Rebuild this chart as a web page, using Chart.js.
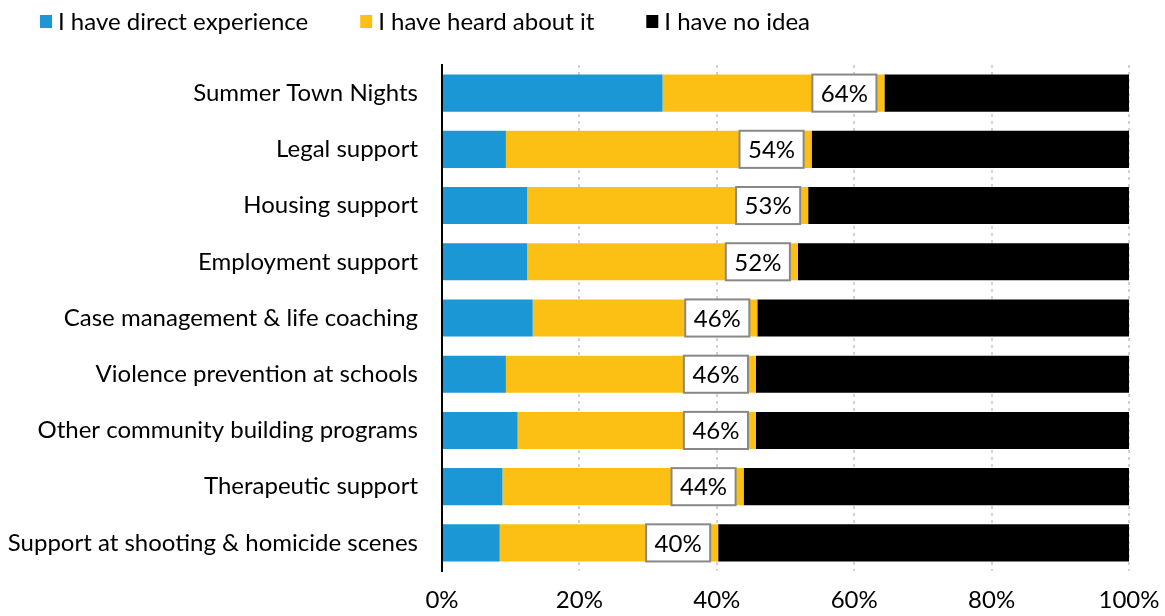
<!DOCTYPE html>
<html>
<head>
<meta charset="utf-8">
<script src="https://cdn.jsdelivr.net/npm/chart.js@4"></script>
<style>
    html, body { margin: 0; padding: 0; background: #fff; }
    #wrap { width: 1165px; height: 616px; position: relative; }
</style>
</head>
<body>
<div id="wrap"><canvas id="chart"></canvas></div>
<script>
const categories = [
    'Summer Town Nights',
    'Legal support',
    'Housing support',
    'Employment support',
    'Case management & life coaching',
    'Violence prevention at schools',
    'Other community building programs',
    'Therapeutic support',
    'Support at shooting & homicide scenes'
];
const directExperience = [32.1, 9.3, 12.4, 12.4, 13.2, 9.3, 11.0, 8.8, 8.4];
const heardAbout = [32.3, 44.5, 40.9, 39.4, 32.7, 36.4, 34.7, 35.1, 31.8];
const noIdea = [35.6, 46.2, 46.7, 48.2, 54.1, 54.3, 54.3, 56.1, 59.8];
const xTicks = [0, 20, 40, 60, 80, 100];

const FONT = 'Lato, "Open Sans", sans-serif';

// legend drawn by hand so spacing matches the original
const topLegend = {
    id: 'topLegend',
    afterDraw(chart) {
        const ctx = chart.ctx;
        ctx.save();
        ctx.font = '24px ' + FONT;
        ctx.textBaseline = 'middle';
        ctx.textAlign = 'left';
        let x = 40;
        chart.data.datasets.forEach(ds => {
            ctx.fillStyle = ds.backgroundColor;
            ctx.fillRect(x, 15, 12, 13);
            ctx.fillStyle = '#000';
            ctx.fillText(ds.label, x + 18, 22);
            x += 18 + ctx.measureText(ds.label).width + 52;
        });
        ctx.restore();
    }
};

// white boxes with the combined share, at the end of the yellow segment
const totalLabels = {
    id: 'totalLabels',
    afterDatasetsDraw(chart) {
        const ctx = chart.ctx;
        const xScale = chart.scales.x;
        const meta = chart.getDatasetMeta(1);
        ctx.save();
        ctx.font = '24px ' + FONT;
        ctx.textBaseline = 'middle';
        ctx.textAlign = 'center';
        meta.data.forEach((bar, i) => {
            const total = directExperience[i] + heardAbout[i];
            const text = Math.round(total) + '%';
            const right = xScale.getPixelForValue(total) - 8;
            const w = ctx.measureText(text).width + 17;
            const h = bar.height;
            const left = right - w;
            ctx.fillStyle = '#fff';
            ctx.fillRect(left, bar.y - h / 2, w, h);
            ctx.strokeStyle = '#888';
            ctx.lineWidth = 2;
            ctx.strokeRect(left, bar.y - h / 2, w, h);
            ctx.fillStyle = '#000';
            ctx.fillText(text, left + w / 2, bar.y + 1);
        });
        ctx.restore();
    }
};

const barOptions = {
    barPercentage: 0.66,
    categoryPercentage: 1,
    borderWidth: 0
};

new Chart(document.getElementById('chart').getContext('2d'), {
    type: 'bar',
    data: {
        labels: categories,
        datasets: [
            { ...barOptions, label: 'I have direct experience', backgroundColor: '#1a97d4', data: directExperience },
            { ...barOptions, label: 'I have heard about it', backgroundColor: '#fcc014', data: heardAbout },
            { ...barOptions, label: 'I have no idea', backgroundColor: '#000000', data: noIdea }
        ]
    },
    options: {
        indexAxis: 'y',
        responsive: true,
        maintainAspectRatio: false,
        animation: false,
        layout: {
            padding: { top: 65, left: 0, right: 36, bottom: 0 }
        },
        plugins: {
            legend: { display: false },
            tooltip: { enabled: false }
        },
        scales: {
            x: {
                stacked: true,
                min: 0,
                max: 100,
                afterBuildTicks: axis => {
                    axis.ticks = xTicks.map(v => ({ value: v }));
                },
                afterFit: axis => {
                    axis.height = 45;
                    axis.paddingLeft = 0;
                    axis.paddingRight = 0;
                },
                ticks: {
                    padding: 15,
                    color: '#000',
                    font: { family: FONT, size: 24 },
                    callback: v => v + '%'
                },
                grid: {
                    color: '#d2d2d2',
                    lineWidth: 2,
                    drawTicks: false
                },
                border: {
                    display: false,
                    dash: [3, 4]
                }
            },
            y: {
                stacked: true,
                afterFit: axis => {
                    axis.width = 442;
                    axis.paddingTop = 0;
                    axis.paddingBottom = 0;
                },
                ticks: {
                    padding: 24,
                    color: '#000',
                    font: { family: FONT, size: 24 }
                },
                grid: { display: false, drawTicks: false },
                border: { display: true, color: '#000', width: 2 }
            }
        }
    },
    plugins: [topLegend, totalLabels]
});
</script>
</body>
</html>
